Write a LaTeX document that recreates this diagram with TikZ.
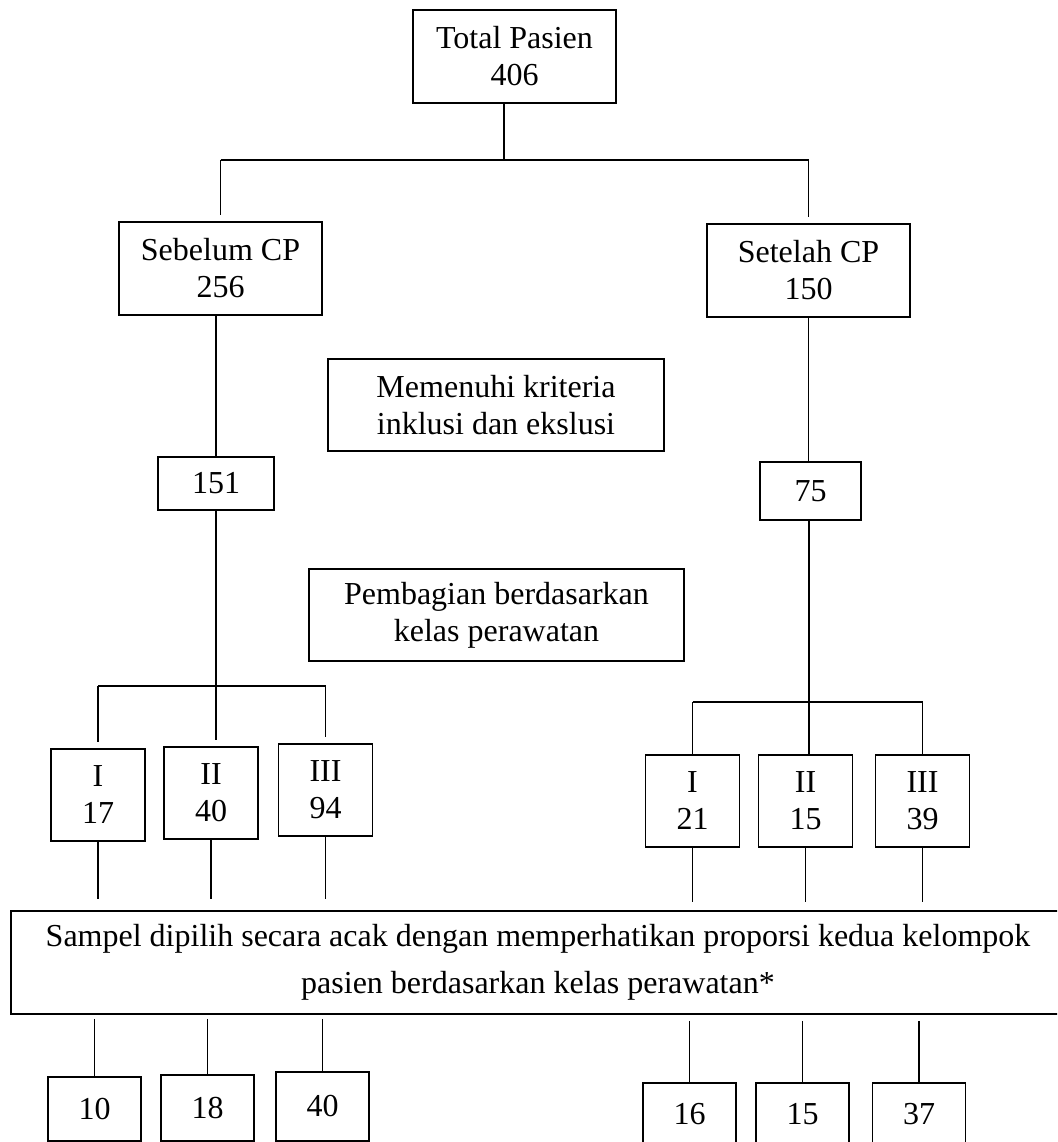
\documentclass[tikz,border=0pt]{standalone}
\usepackage{fontspec}
\setmainfont{Liberation Serif}
\tikzstyle{kotak}=[rectangle,draw,line width=1.7pt,align=center,inner sep=0pt,font=\fontsize{32}{37}\selectfont]
\tikzstyle{garis}=[line width=1.7pt]
\newcommand{\kotak}{\node[kotak]}
\begin{document}
\begin{tikzpicture}[x=1pt,y=-1pt]
			\useasboundingbox (0,0) rectangle (1057,1142);
			\clip (0,0) rectangle (1057,1142);
			% % % % % % % % % % % % % % % % % % % % % % % % % % % % %
			\kotak [minimum width=203pt,minimum height=93pt] (total) at (514.5,56.5) {Total Pasien\\406};
			\kotak [minimum width=203pt,minimum height=93pt] (sebelum) at (220.5,268.5) {Sebelum CP\\256};
			\kotak [minimum width=203pt,minimum height=93pt] (setelah) at (808.5,270.5) {Setelah CP\\150};
			\kotak [minimum width=336pt,minimum height=92pt] (kriteria) at (496,405) {Memenuhi kriteria\\inklusi dan ekslusi};
			\kotak [minimum width=116pt,minimum height=53pt] (n151) at (216,483.5) {151};
			\kotak [minimum width=101pt,minimum height=58pt] (n75) at (810.5,491) {75};
			\kotak [minimum width=375pt,minimum height=92pt] (kelas) at (496.5,615) {Pembagian berdasarkan\\kelas perawatan};
			%*********************
			\kotak [minimum width=94pt,minimum height=92pt] (L1) at (98,795) {I\\17};
			\kotak [minimum width=94pt,minimum height=92pt] (L2) at (211,793) {II\\40};
			\kotak [minimum width=94pt,minimum height=92pt] (L3) at (325.5,790) {III\\94};
			\kotak [minimum width=94pt,minimum height=92pt] (R1) at (692.5,801) {I\\21};
			\kotak [minimum width=94pt,minimum height=92pt] (R2) at (805.5,801) {II\\15};
			\kotak [minimum width=94pt,minimum height=92pt] (R3) at (922.5,801) {III\\39};
			%*********************
			\kotak [minimum width=1054pt,minimum height=103pt,font=\fontsize{32}{47}\selectfont] (sampel) at (538,962.5) {Sampel dipilih secara acak dengan memperhatikan proporsi kedua kelompok\\pasien berdasarkan kelas perawatan*};
			%*********************
			\kotak [minimum width=93pt,minimum height=64pt] (B1) at (94.5,1109) {10};
			\kotak [minimum width=93pt,minimum height=66pt] (B2) at (207.5,1108) {18};
			\kotak [minimum width=93pt,minimum height=69pt] (B3) at (322.5,1106.5) {40};
			\kotak [minimum width=93pt,minimum height=62pt] (B4) at (689.5,1114) {16};
			\kotak [minimum width=93pt,minimum height=62pt] (B5) at (802.5,1114) {15};
			\kotak [minimum width=93pt,minimum height=62pt] (B6) at (919,1114) {37};
			% % % % % % % % % % % % % % % % %
			\coordinate (t1) at (504,160);
			\coordinate (k1) at (216,686);
			\coordinate (m1) at (809,702);
			\path [garis]
			% % % % % % % % % % % % % % % % %
			(total.south -| t1) edge [] (t1)
			(sebelum |- t1) edge [] (setelah |- t1)
			(sebelum |- t1) edge [shorten >=6pt] (sebelum.north)
			(setelah |- t1) edge [shorten >=6pt] (setelah.north)
			(sebelum.south -| n151) edge [] (n151.north)
			(setelah.south) edge [] (setelah.south |- n75.north)
			%**************
			(n151.south) edge [] (k1)
			(L1 |- k1) edge [] (L3 |- k1)
			(L1 |- k1) edge [shorten >=6pt] (L1.north)
			(k1) edge [shorten >=6pt] (k1 |- L2.north)
			(L3 |- k1) edge [shorten >=6pt] (L3.north)
			%**************
			(m1 |- n75.south) edge [] (m1)
			(R1 |- m1) edge [] (R3 |- m1)
			(R1 |- m1) edge [] (R1.north)
			(m1) edge [] (m1 |- R2.north)
			(R3 |- m1) edge [] (R3.north)
			%**************
			(L1.south) edge [shorten >=11pt] (L1 |- sampel.north)
			(L2.south) edge [shorten >=11pt] (L2 |- sampel.north)
			(L3.south) edge [shorten >=11pt] (L3 |- sampel.north)
			(R1.south) edge [shorten >=8pt] (R1 |- sampel.north)
			(R2.south) edge [shorten >=8pt] (R2 |- sampel.north)
			(R3.south) edge [shorten >=8pt] (R3 |- sampel.north)
			%**************
			(B1 |- sampel.south) edge [shorten <=4pt] (B1.north)
			(B2 |- sampel.south) edge [shorten <=4pt] (B2.north)
			(B3 |- sampel.south) edge [shorten <=4pt] (B3.north)
			(B4 |- sampel.south) edge [shorten <=6pt] (B4.north)
			(B5 |- sampel.south) edge [shorten <=6pt] (B5.north)
			(B6 |- sampel.south) edge [shorten <=6pt] (B6.north)
			;
\end{tikzpicture}
\end{document}
